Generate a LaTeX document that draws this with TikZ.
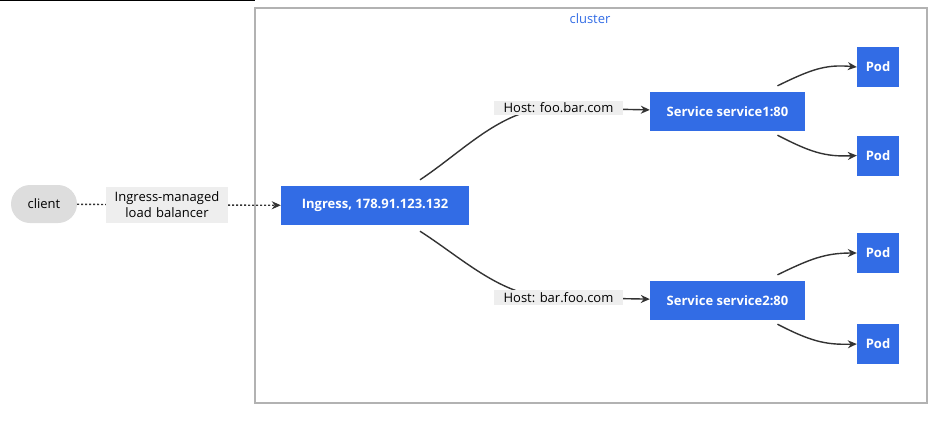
\documentclass[tikz,border=0pt]{standalone}
\usepackage{fontspec}
\setmainfont{Open Sans}
\usetikzlibrary{arrows.meta,positioning}
\definecolor{kblue}{HTML}{326CE5}
\definecolor{kgrey}{HTML}{DDDDDD}
\definecolor{klabel}{HTML}{EEEEEE}
\pgfdeclarelayer{background}
\pgfsetlayers{background,main}
\begin{document}
\begin{tikzpicture}[x=1pt,y=-1pt,
	  every node/.style={align=center,font=\fontsize{13}{16}\selectfont},
	  k8s/.style={fill=kblue,text=white,font=\fontsize{13}{16}\selectfont\bfseries,minimum height=39pt,inner xsep=4pt},
	  plain/.style={fill=kgrey,rounded corners=19pt,minimum height=38pt,minimum width=66pt},
	  elabel/.style={fill=klabel,inner sep=2pt},
	  to/.style={-{Stealth[length=9pt,width=8pt]},draw=black!80,line width=1.4pt},
	  link/.style={draw=black!80,line width=1.4pt},
	  lb/.style={dash pattern=on 2pt off 2pt,draw=black!80,line width=1.4pt}]

	  \useasboundingbox (0,0) rectangle (949,424);
	  \draw[black] (0,0.5) -- (255,0.5);
	  % cluster frame
	  \draw[black!30,line width=1.4pt] (255,8) rectangle (927,403);
	  \node[text=kblue] (cluster) at (590,19) {cluster};

	  \node[plain] (client) at (44,204) {client};
	  \node[elabel,text width=118pt,inner ysep=5pt] (lblLB) at (167,205) {Ingress-managed\\load balancer};
	  \node[k8s,minimum width=188pt] (ingress) at (375,205.5) {Ingress, 178.91.123.132};

	  \node[k8s,minimum width=155pt] (service1) at (727.5,111.5) {Service service1:80};
	  \node[k8s,minimum width=155pt] (service2) at (727.5,300.5) {Service service2:80};
	  \node[elabel,minimum width=129pt] (host1) at (558.5,108) {Host: foo.bar.com};
	  \node[elabel,minimum width=129pt] (host2) at (558.5,297.5) {Host: bar.foo.com};

	  \node[k8s,minimum width=42pt,minimum height=40pt] (pod1) at (878,67) {Pod};
	  \node[k8s,minimum width=42pt,minimum height=40pt] (pod2) at (878,155.5) {Pod};
	  \node[k8s,minimum width=42pt,minimum height=40pt] (pod3) at (878,253) {Pod};
	  \node[k8s,minimum width=42pt,minimum height=40pt] (pod4) at (878,344) {Pod};

	  \draw[lb] (client) -- (lblLB);
	  \draw[lb,-{Stealth[length=9pt,width=8pt]}] (lblLB) -- (ingress);

	  % ingress rules run behind the host labels
	  \begin{pgfonlayer}{background}
	    \draw[link] ([xshift=45pt,yshift=6pt]ingress.north) .. controls (465,150) and (505,105) .. (host1.center);
	    \draw[link] ([xshift=45pt,yshift=-6pt]ingress.south) .. controls (465,260) and (505,300) .. (host2.center);
	  \end{pgfonlayer}
	  \draw[to] (host1) -- (service1);
	  \draw[to] (host2) -- (service2);

	  \draw[to] ([xshift=50pt,yshift=6pt]service1.north) .. controls (810,70) and (825,64) .. (pod1.west);
	  \draw[to] ([xshift=50pt,yshift=-4pt]service1.south) .. controls (810,152) and (825,157) .. (pod2.west);
	  \draw[to] ([xshift=50pt,yshift=6pt]service2.north) .. controls (810,259) and (825,253) .. (pod3.west);
	  \draw[to] ([xshift=50pt,yshift=-4pt]service2.south) .. controls (810,341) and (825,345) .. (pod4.west);
\end{tikzpicture}
\end{document}
